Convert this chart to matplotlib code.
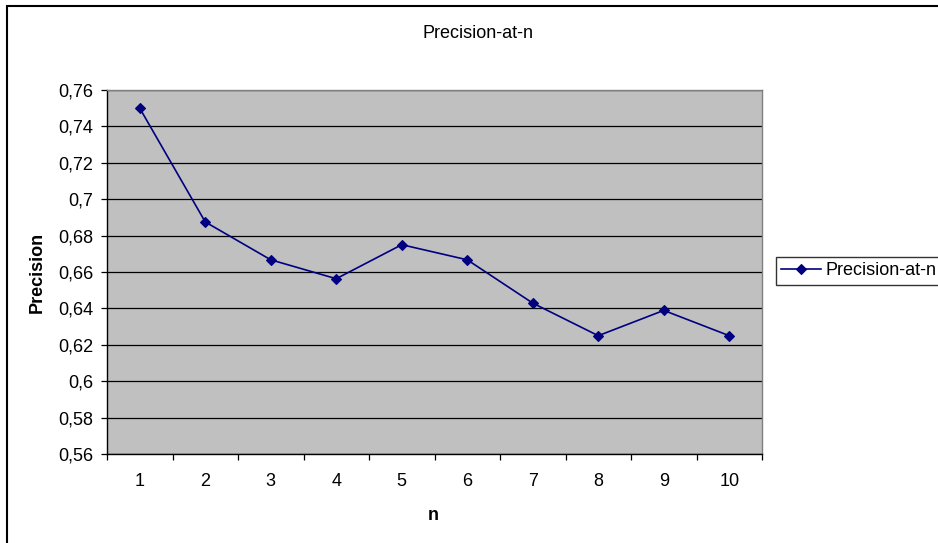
import matplotlib
matplotlib.use("Agg")
import matplotlib.pyplot as plt
from matplotlib.patches import Rectangle
from matplotlib.ticker import FixedLocator, FuncFormatter

plt.rcParams['font.family'] = ['Liberation Sans', 'DejaVu Sans']

n_values = [1, 2, 3, 4, 5, 6, 7, 8, 9, 10]
precision = [0.75, 0.6875, 0.6667, 0.6563, 0.675, 0.6667, 0.6429, 0.625, 0.6389, 0.625]
y_ticks = [0.56, 0.58, 0.60, 0.62, 0.64, 0.66, 0.68, 0.70, 0.72, 0.74, 0.76]
series_name = "Precision-at-n"

FS = 13
W, H = 938, 543
fig = plt.figure(figsize=(W / 100, H / 100), dpi=100)
fig.patch.set_facecolor('white')

# outer chart frame (runs off the right and bottom edges)
fig.add_artist(Rectangle((7 / W, -0.05), 1.0, 1 - 6 / H + 0.05,
                         transform=fig.transFigure, fill=False,
                         edgecolor='black', linewidth=1.5))

left, right, top, bottom = 107, 762, 90, 454
ax = fig.add_axes([left / W, 1 - bottom / H, (right - left) / W, (bottom - top) / H])
ax.set_facecolor('#c0c0c0')

ax.set_xlim(0.5, 10.5)
ax.set_ylim(0.56, 0.76)

ax.set_yticks(y_ticks)
ax.yaxis.set_major_formatter(FuncFormatter(lambda v, p: f"{v:.2f}".rstrip('0').rstrip('.').replace('.', ',')))
ax.yaxis.grid(True, color='black', linewidth=0.9)
ax.set_axisbelow(True)

ax.set_xticks(n_values)
ax.set_xticklabels([str(v) for v in n_values])
ax.xaxis.set_minor_locator(FixedLocator([v + 0.5 for v in range(0, 11)]))
ax.tick_params(axis='x', which='major', length=0, pad=14, labelsize=FS)
ax.tick_params(axis='x', which='minor', length=4.5, width=0.9, color='black')
ax.tick_params(axis='y', which='major', length=4.5, width=0.9, pad=5.5, labelsize=FS)

for s in ['top', 'right']:
    ax.spines[s].set_color('#808080')
    ax.spines[s].set_linewidth(1.0)
for s in ['left', 'bottom']:
    ax.spines[s].set_color('black')
    ax.spines[s].set_linewidth(1.0)

line, = ax.plot(n_values, precision, color='#000080', linewidth=1.2,
                marker='D', markersize=4.8, markeredgewidth=0.8,
                markerfacecolor='#000080', markeredgecolor='#000080',
                label=series_name, clip_on=False)

fig.text(478 / W, 1 - 33 / H, "Precision-at-n", ha='center', va='center', fontsize=FS)
fig.text(37 / W, 1 - 272 / H, "Precision", ha='center', va='center', rotation=90,
         fontsize=FS, fontweight='bold')
fig.text(433 / W, 1 - 515 / H, "n", ha='center', va='center', fontsize=FS, fontweight='bold')

leg = fig.legend(handles=[line], loc='upper left', bbox_to_anchor=(776 / W, 1 - 257 / H),
                 fontsize=FS, frameon=True, fancybox=False, edgecolor='black',
                 handlelength=2.2, handletextpad=0.25, borderpad=0.3, borderaxespad=0)
leg.get_frame().set_linewidth(1.0)

fig.savefig("out.png", dpi=100)
